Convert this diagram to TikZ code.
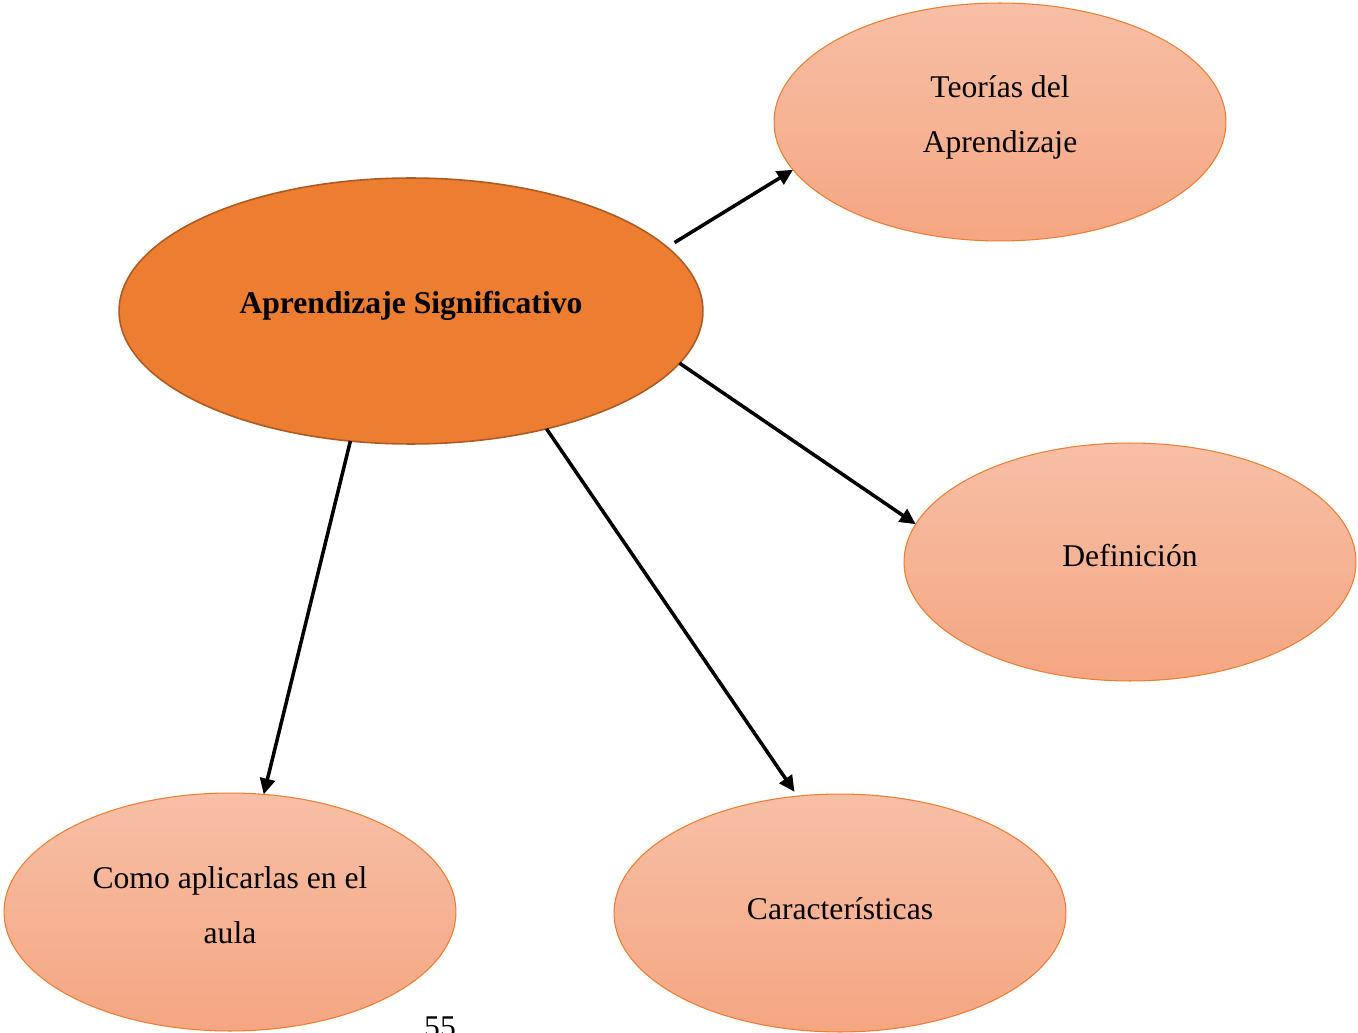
\documentclass[tikz,border=0pt]{standalone}
\usepackage{fontspec}
\setmainfont{Liberation Serif}
\usetikzlibrary{shapes.geometric,arrows.meta}
\definecolor{mainor}{HTML}{ED7D31}
\definecolor{mainbd}{HTML}{AE5A21}
\definecolor{ltop}{HTML}{F7BFA6}
\definecolor{lbot}{HTML}{F5A682}
\tikzset{
  mainell/.style={ellipse, draw=mainbd, line width=0.9pt, fill=mainor, minimum width=11.68cm, minimum height=5.32cm, inner sep=0pt, outer sep=0pt},
  subell/.style={ellipse, draw=mainor, line width=0.6pt, top color=ltop, bottom color=lbot, minimum width=9.04cm, minimum height=4.76cm, inner sep=0pt, outer sep=0pt},
  txt/.style={font=\fontsize{18}{31}\selectfont, align=center, text=black},
  arr/.style={line width=2pt, -{Triangle[length=9pt,width=8.5pt]}}
}
\begin{document}
\begin{tikzpicture}[x=0.02cm,y=-0.02cm]
\useasboundingbox (0,0) rectangle (1358,1033);
\node[mainell, label={[txt, font=\fontsize{18}{31}\selectfont\bfseries, yshift=0.11cm]center:Aprendizaje Significativo}] (main) at (411,311) {};
\node[subell, label={[txt, yshift=0.09cm]center:Teorías del\\Aprendizaje}] (teo) at (1000,122) {};
\node[subell, label={[txt, yshift=0.12cm]center:Definición}] (def) at (1130,562) {};
\node[subell, label={[txt, yshift=0.14cm]center:Como aplicarlas en el\\aula}] (como) at (230,912) {};
\node[subell, label={[txt, yshift=0.08cm]center:Características}] (car) at (840,913) {};
\node[txt, anchor=base] (pg) at (440,1037) {55};
\draw[arr, shorten <=5pt] (main.14) -- (teo.193);
\draw[arr] (main.-11) -- (def.170);
\draw[arr, shorten >=3pt] (main.-41) -- (car.110);
\draw[arr] (main.-115) -- (como.74);
\end{tikzpicture}
\end{document}
